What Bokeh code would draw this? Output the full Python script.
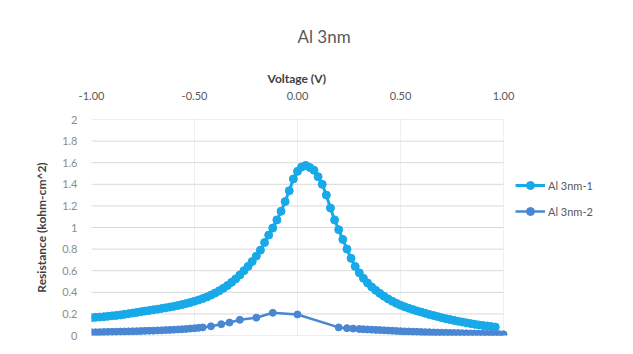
from bokeh.plotting import figure
from bokeh.models import Range1d, FixedTicker, Legend, LegendItem, NumeralTickFormatter, Title
from bokeh.embed import file_html
from bokeh.resources import INLINE

# ---- data ----
v1 = [-1.00, -0.98, -0.96, -0.94, -0.92, -0.90, -0.88, -0.86, -0.84, -0.82,
      -0.80, -0.78, -0.76, -0.74, -0.72, -0.70, -0.68, -0.66, -0.64, -0.62,
      -0.60, -0.58, -0.56, -0.54, -0.52, -0.50, -0.48, -0.46, -0.44, -0.42,
      -0.40, -0.38, -0.36, -0.34, -0.32, -0.30, -0.28, -0.26, -0.24, -0.22,
      -0.20, -0.18, -0.16, -0.14, -0.12, -0.10, -0.08, -0.06, -0.04, -0.02,
      0.00, 0.02, 0.04, 0.06, 0.08, 0.10, 0.12, 0.14, 0.16, 0.18,
      0.20, 0.22, 0.24, 0.26, 0.28, 0.30, 0.32, 0.34, 0.36, 0.38,
      0.40, 0.42, 0.44, 0.46, 0.48, 0.50, 0.52, 0.54, 0.56, 0.58,
      0.60, 0.62, 0.64, 0.66, 0.68, 0.70, 0.72, 0.74, 0.76, 0.78,
      0.80, 0.82, 0.84, 0.86, 0.88, 0.90, 0.92, 0.94, 0.96]
r1 = [0.165, 0.168, 0.171, 0.174, 0.178, 0.182, 0.186, 0.190, 0.196, 0.202,
      0.208, 0.214, 0.220, 0.226, 0.232, 0.238, 0.244, 0.250, 0.256, 0.263,
      0.270, 0.278, 0.287, 0.296, 0.306, 0.317, 0.329, 0.342, 0.357, 0.374,
      0.393, 0.414, 0.437, 0.463, 0.492, 0.524, 0.560, 0.600, 0.640, 0.685,
      0.735, 0.790, 0.860, 0.930, 0.995, 1.070, 1.150, 1.240, 1.340, 1.450,
      1.520, 1.560, 1.575, 1.555, 1.530, 1.470, 1.400, 1.300, 1.180, 1.070,
      0.980, 0.890, 0.800, 0.715, 0.640, 0.580, 0.530, 0.487, 0.450, 0.418,
      0.390, 0.363, 0.339, 0.317, 0.298, 0.281, 0.266, 0.252, 0.240, 0.228,
      0.217, 0.206, 0.195, 0.185, 0.175, 0.165, 0.156, 0.148, 0.140, 0.132,
      0.125, 0.117, 0.110, 0.104, 0.098, 0.093, 0.088, 0.083, 0.078]

v2 = [-1.00, -0.98, -0.96, -0.94, -0.92, -0.90, -0.88, -0.86, -0.84, -0.82,
      -0.80, -0.78, -0.76, -0.74, -0.72, -0.70, -0.68, -0.66, -0.64, -0.62,
      -0.60, -0.58, -0.56, -0.54, -0.52, -0.50, -0.48, -0.46,
      -0.42, -0.37, -0.33, -0.28, -0.20, -0.12, 0.00,
      0.20, 0.24, 0.27, 0.30,
      0.32, 0.34, 0.36, 0.38, 0.40, 0.42, 0.44, 0.46, 0.48, 0.50,
      0.52, 0.54, 0.56, 0.58, 0.60, 0.62, 0.64, 0.66, 0.68, 0.70,
      0.72, 0.74, 0.76, 0.78, 0.80, 0.82, 0.84, 0.86, 0.88, 0.90,
      0.92, 0.94, 0.96, 0.98, 1.00]
r2 = [0.030, 0.030, 0.031, 0.032, 0.033, 0.034, 0.035, 0.036, 0.037, 0.038,
      0.039, 0.040, 0.041, 0.043, 0.044, 0.045, 0.047, 0.048, 0.050, 0.052,
      0.054, 0.056, 0.058, 0.061, 0.064, 0.067, 0.071, 0.075,
      0.085, 0.105, 0.120, 0.145, 0.165, 0.210, 0.195,
      0.075, 0.068, 0.064, 0.060,
      0.058, 0.056, 0.054, 0.052, 0.050, 0.048, 0.046, 0.044, 0.042, 0.040,
      0.038, 0.037, 0.035, 0.034, 0.032, 0.031, 0.030, 0.028, 0.027, 0.026,
      0.025, 0.024, 0.023, 0.022, 0.021, 0.020, 0.019, 0.018, 0.017, 0.016,
      0.015, 0.014, 0.013, 0.012, 0.011]

x_ticks = [-1.0, -0.5, 0.0, 0.5, 1.0]
y_ticks = [0, 0.2, 0.4, 0.6, 0.8, 1.0, 1.2, 1.4, 1.6, 1.8, 2.0]
y_labels = ["0", "0.2", "0.4", "0.6", "0.8", "1", "1.2", "1.4", "1.6", "1.8", "2"]
names = ["Al 3nm-1", "Al 3nm-2"]
colors = ["#17A9E8", "#4A87D3"]

FONT = "Lato"
X_MIN, X_MAX = -1.0, 1.0

# frame extends to the right edge so that the legend (drawn inside the frame) is visible;
# the visible plot area (-1..1) keeps the reference scale
p = figure(width=633, height=354, output_backend="svg", toolbar_location=None,
           x_axis_location="above",
           x_range=Range1d(X_MIN, X_MAX + (633 - 503) / 206.0), y_range=Range1d(0, 2),
           min_border_left=91, min_border_right=0,
           min_border_top=119, min_border_bottom=19)
p.outline_line_color = None
p.background_fill_color = "white"
p.border_fill_color = "white"

# axes
xa = p.xaxis[0]
xa.ticker = FixedTicker(ticks=x_ticks)
xa.formatter = NumeralTickFormatter(format="0.00")
xa.major_label_text_font = FONT
xa.major_label_text_font_size = "11px"
xa.major_label_text_color = "#595959"
xa.major_label_standoff = 14
xa.axis_line_color = None
xa.major_tick_line_color = None
xa.minor_tick_line_color = None

ya = p.yaxis[0]
ya.ticker = FixedTicker(ticks=y_ticks)
ya.major_label_overrides = {t: l for t, l in zip(y_ticks, y_labels)}
ya.axis_label = "Resistance (kohm-cm^2)"
ya.axis_label_text_font = FONT
ya.axis_label_text_font_style = "bold"
ya.axis_label_text_font_size = "12px"
ya.axis_label_text_color = "#404040"
ya.axis_label_standoff = 10
ya.major_label_text_font = FONT
ya.major_label_text_font_size = "11px"
ya.major_label_text_color = "#8c8c8c"
ya.major_label_standoff = 8
ya.axis_line_color = None
ya.major_tick_line_color = None
ya.minor_tick_line_color = None

# grid: horizontal lines only across the plot area
p.ygrid.visible = False
p.segment(x0=[X_MIN] * len(y_ticks), x1=[X_MAX] * len(y_ticks), y0=y_ticks, y1=y_ticks,
          line_color="#d9d9d9", line_width=1)
p.xgrid.grid_line_color = "#efefef"
p.xgrid.ticker = FixedTicker(ticks=x_ticks)

# series
l1 = p.line(v1, r1, line_color=colors[0], line_width=3)
m1 = p.scatter(v1, r1, size=8, fill_color=colors[0], line_color=colors[0])
l2 = p.line(v2, r2, line_color=colors[1], line_width=2.5)
m2 = p.scatter(v2, r2, size=7, fill_color=colors[1], line_color=colors[1])

legend = Legend(items=[LegendItem(label=names[0], renderers=[l1, m1]),
                       LegendItem(label=names[1], renderers=[l2, m2])],
                location=(424, 114), orientation="vertical",
                border_line_color=None, background_fill_alpha=0,
                padding=0, margin=0, spacing=6, glyph_width=30, glyph_height=20,
                label_standoff=3, label_text_font=FONT, label_text_font_size="11px",
                label_text_color="#595959")
p.add_layout(legend)

xlabel = Title(text="Voltage (V)", align="left", offset=176, standoff=6,
               text_font=FONT, text_font_size="12px", text_font_style="bold",
               text_color="#404040")
p.add_layout(xlabel, "above")

title = Title(text="Al 3nm", align="left", offset=206, standoff=38,
              text_font=FONT, text_font_size="17px", text_font_style="normal",
              text_color="#595959")
p.add_layout(title, "above")

open("out.html", "w").write(file_html(p, INLINE))
